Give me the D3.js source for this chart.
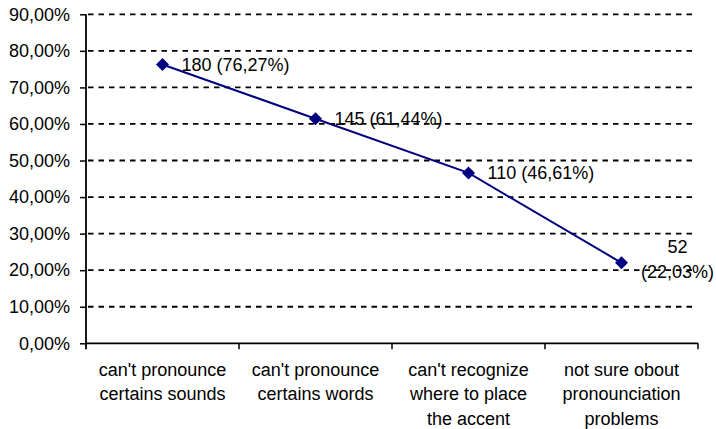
<!DOCTYPE html>
<html>
<head>
<meta charset="utf-8">
<script src="https://cdn.jsdelivr.net/npm/d3@7"></script>
<style>
  html, body { margin: 0; padding: 0; background: #fff; }
  svg { display: block; font-family: "Liberation Sans", Arial, sans-serif; }
</style>
</head>
<body>
<svg id="chart" width="716" height="429"></svg>
<script>
// Pronunciation difficulties reported by respondents
const categories = [
  ["can't pronounce", "certains sounds"],
  ["can't pronounce", "certains words"],
  ["can't recognize", "where to place", "the accent"],
  ["not sure obout", "pronounciation", "problems"]
];
const counts = [180, 145, 110, 52];
const shares = [76.27, 61.44, 46.61, 22.03];
const yTicks = [0, 10, 20, 30, 40, 50, 60, 70, 80, 90];

const svg = d3.select("#chart");
const plotLeft = 86, plotRight = 698, plotTop = 14.3, plotBottom = 343.3;

const x = d3.scaleBand().domain(d3.range(categories.length)).range([plotLeft, plotRight]);
const y = d3.scaleLinear().domain([0, 90]).range([plotBottom, plotTop]);

const fmtPct = v => v.toFixed(2).replace(".", ",") + "%";

// dashed horizontal gridlines
svg.append("g")
  .selectAll("line")
  .data(yTicks.filter(d => d > 0))
  .join("line")
  .attr("x1", plotLeft + 2).attr("x2", 692)
  .attr("y1", d => y(d)).attr("y2", d => y(d))
  .attr("stroke", "#000").attr("stroke-width", 1.8)
  .attr("stroke-dasharray", "5.5,5");

// y axis
const yAxis = svg.append("g")
  .attr("transform", `translate(${plotLeft},0)`)
  .call(d3.axisLeft(y).tickValues(yTicks).tickSize(6).tickFormat(fmtPct));
yAxis.select(".domain").attr("d", `M0,${plotTop}V${plotBottom + 6}`).attr("stroke-width", 1.8);
yAxis.selectAll(".tick line").attr("stroke-width", 1.5);
yAxis.selectAll(".tick text")
  .attr("x", -16)
  .attr("font-size", 18)
  .attr("font-family", "Liberation Sans, Arial, sans-serif")
  .attr("fill", "#000");

// x axis with ticks at category boundaries
svg.append("line")
  .attr("x1", plotLeft).attr("x2", plotRight)
  .attr("y1", plotBottom).attr("y2", plotBottom)
  .attr("stroke", "#000").attr("stroke-width", 1.8);
const bounds = d3.range(categories.length + 1).map(i => i < categories.length ? x(i) : x(i - 1) + x.bandwidth());
svg.append("g")
  .selectAll("line")
  .data(bounds.slice(1))
  .join("line")
  .attr("x1", d => d).attr("x2", d => d)
  .attr("y1", plotBottom).attr("y2", plotBottom + 6)
  .attr("stroke", "#000").attr("stroke-width", 1.5);

// category labels
const catText = svg.append("g")
  .selectAll("text")
  .data(categories)
  .join("text")
  .attr("text-anchor", "middle")
  .attr("font-size", 18)
  .attr("fill", "#000");
catText.each(function(lines, i) {
  d3.select(this).selectAll("tspan")
    .data(lines)
    .join("tspan")
    .attr("x", x(i) + x.bandwidth() / 2)
    .attr("y", (d, j) => 376 + j * 24.3)
    .text(d => d);
});

// series line
const cx = i => x(i) + x.bandwidth() / 2;
svg.append("path")
  .datum(shares)
  .attr("fill", "none")
  .attr("stroke", "#000080")
  .attr("stroke-width", 2)
  .attr("d", d3.line().x((d, i) => cx(i)).y(d => y(d)));

// diamond markers
svg.append("g")
  .selectAll("path")
  .data(shares)
  .join("path")
  .attr("transform", (d, i) => `translate(${cx(i)},${y(d)})`)
  .attr("d", "M0,-6.5L6.5,0L0,6.5L-6.5,0Z")
  .attr("fill", "#000080");

// value labels
const labels = svg.append("g").attr("font-size", 18).attr("fill", "#000");
shares.forEach((s, i) => {
  const txt = `${counts[i]} (${fmtPct(s)})`;
  if (i < shares.length - 1) {
    labels.append("text")
      .attr("x", cx(i) + 19)
      .attr("y", y(s) + 6.5)
      .text(txt);
  } else {
    const t = labels.append("text").attr("text-anchor", "middle");
    t.append("tspan").attr("x", cx(i) + 56).attr("y", y(s) - 9.5).text(String(counts[i]));
    t.append("tspan").attr("x", cx(i) + 56).attr("y", y(s) + 15.5).text(`(${fmtPct(s)})`);
  }
});
</script>
</body>
</html>
